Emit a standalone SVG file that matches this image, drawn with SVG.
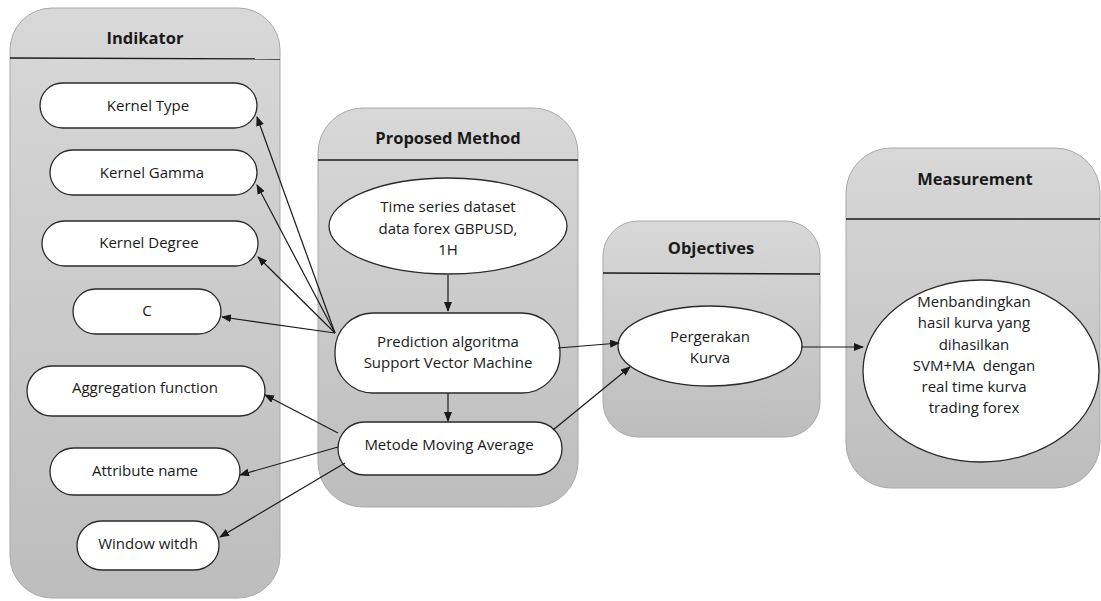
<svg xmlns="http://www.w3.org/2000/svg" width="1101" height="601" viewBox="0 0 1101 601">
<style>
.cont{stroke:#a8a8a8;stroke-width:1;fill:url(#g)}
.hdr{stroke:#1a1a1a;stroke-width:1.3}
.node{fill:#fff;stroke:#2a2a2a;stroke-width:1.3}
.t{font-family:"Open Sans","Liberation Sans",sans-serif;font-size:15px;fill:#1a1a1a;text-anchor:middle}
.h{font-family:"Open Sans","Liberation Sans",sans-serif;font-size:16.5px;font-weight:bold;fill:#1a1a1a;text-anchor:middle}
.c{stroke:#1a1a1a;stroke-width:1.2;fill:none;marker-end:url(#a)}
</style>
<defs>
<linearGradient id="g" x1="0" y1="0" x2="0" y2="1">
<stop offset="0" stop-color="#d8d8d8"/>
<stop offset="1" stop-color="#bdbdbd"/>
</linearGradient>
<marker id="a" markerWidth="10" markerHeight="8" refX="9" refY="4" orient="auto" markerUnits="userSpaceOnUse">
<path d="M0,0 L10,4 L0,8 Z" fill="#1a1a1a"/>
</marker>
</defs>
<rect width="1101" height="601" fill="#fff"/>

<g id="indikator">
<rect class="cont" x="10" y="8" width="270" height="590" rx="42"/>
<line class="hdr" x1="10" y1="58" x2="280" y2="59"/>
<text class="h" x="145" y="44">Indikator</text>
</g>
<g id="proposed">
<rect class="cont" x="318" y="108" width="260" height="399" rx="45"/>
<line class="hdr" x1="318" y1="160" x2="578" y2="160"/>
<text class="h" x="448" y="144">Proposed Method</text>
</g>
<g id="objectives">
<rect class="cont" x="603" y="221" width="217" height="216" rx="35"/>
<line class="hdr" x1="603" y1="273" x2="820" y2="274"/>
<text class="h" x="711" y="254">Objectives</text>
</g>
<g id="measurement">
<rect class="cont" x="846" y="148" width="254" height="340" rx="45"/>
<line class="hdr" x1="846" y1="219" x2="1100" y2="219"/>
<text class="h" x="975" y="185">Measurement</text>
</g>

<g id="kernel-type"><rect class="node" x="40" y="83" width="217" height="45" rx="22.5"/><text class="t" x="148" y="111">Kernel Type</text></g>
<g id="kernel-gamma"><rect class="node" x="50" y="150" width="207" height="45" rx="22.5"/><text class="t" x="152" y="178">Kernel Gamma</text></g>
<g id="kernel-degree"><rect class="node" x="42" y="221" width="216" height="45" rx="22.5"/><text class="t" x="149" y="248">Kernel Degree</text></g>
<g id="c"><rect class="node" x="73" y="289" width="148" height="45" rx="22.5"/><text class="t" x="147" y="316">C</text></g>
<g id="aggregation"><rect class="node" x="27" y="366" width="238" height="50" rx="25"/><text class="t" x="145" y="393">Aggregation function</text></g>
<g id="attribute"><rect class="node" x="50" y="448" width="190" height="47" rx="23.5"/><text class="t" x="145" y="476">Attribute name</text></g>
<g id="window"><rect class="node" x="77" y="521" width="142" height="49" rx="24.5"/><text class="t" x="148" y="549">Window witdh</text></g>

<g id="timeseries"><ellipse class="node" cx="448" cy="226" rx="119" ry="48"/>
<text class="t" x="448" y="212">Time series dataset</text>
<text class="t" x="448" y="234">data forex GBPUSD,</text>
<text class="t" x="448" y="255">1H</text></g>
<g id="svm"><rect class="node" x="335" y="313" width="225" height="80" rx="38"/>
<text class="t" x="448" y="347">Prediction algoritma</text>
<text class="t" x="448" y="368">Support Vector Machine</text></g>
<g id="ma"><rect class="node" x="338" y="422" width="224" height="53" rx="26.5"/>
<text class="t" x="449" y="450">Metode Moving Average</text></g>
<g id="pergerakan"><ellipse class="node" cx="710" cy="346" rx="92" ry="40"/>
<text class="t" x="710" y="342">Pergerakan</text>
<text class="t" x="710" y="363">Kurva</text></g>
<g id="menbandingkan"><ellipse class="node" cx="981" cy="371" rx="118" ry="91"/>
<text class="t" x="974" y="307">Menbandingkan</text>
<text class="t" x="974" y="328">hasil kurva yang</text>
<text class="t" x="974" y="350">dihasilkan</text>
<text class="t" x="974" y="371">SVM+MA&#160; dengan</text>
<text class="t" x="974" y="392">real time kurva</text>
<text class="t" x="974" y="413">trading forex</text></g>

<g id="connectors">
<path class="c" d="M335,333 L257,117"/>
<path class="c" d="M335,333 L257,185"/>
<path class="c" d="M335,333 L258,257"/>
<path class="c" d="M335,333 L222,317"/>
<path class="c" d="M338,433 L265,395"/>
<path class="c" d="M338,447 L240,475"/>
<path class="c" d="M345,463 L220,537"/>
<path class="c" d="M448,275 L448,311"/>
<path class="c" d="M448,393 L448,421"/>
<path class="c" d="M558,348 L619,343"/>
<path class="c" d="M553,430 L630,367"/>
<path class="c" d="M801,347 L863,347"/>
</g>
</svg>
